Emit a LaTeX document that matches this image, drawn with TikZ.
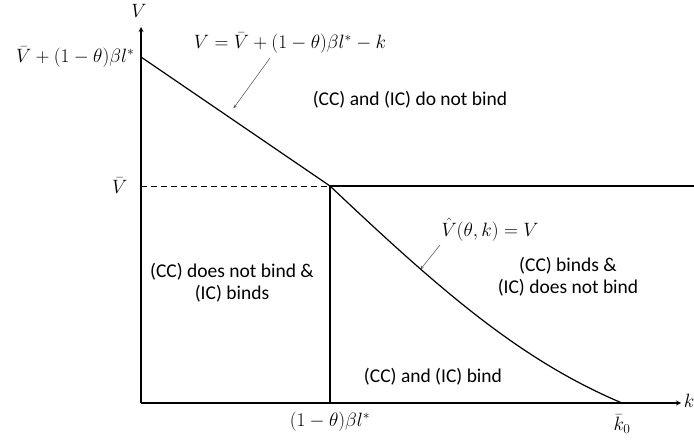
\RequirePackage{fix-cm}
\documentclass[tikz,border=0pt]{standalone}
\usepackage{fontspec}
\setmainfont{Carlito}
\begin{document}
\begin{tikzpicture}[x=1pt, y=1pt, line width=1.2pt,
  font=\fontsize{19.3}{22}\selectfont,
  pointer/.style={->, >=stealth, line width=0.5pt, draw=black!70, shorten >=1pt},
  region/.style={align=center, inner sep=1pt, font=\fontsize{19.5}{22}\selectfont}]
  \useasboundingbox (0,0) rectangle (694,440);
  % axes
  \coordinate (o) at (141,37);
  \coordinate (ytop) at (141,413);
  \coordinate (xend) at (681,37);
  \draw[->, >=stealth] (o) -- (ytop);
  \draw[->, >=stealth] (o) -- (xend);
  \node (vlab) at (139,429) {$V$};
  \node (klab) at (689,39) {$k$};
  % boundaries
  \coordinate (a) at (141,383);
  \coordinate (kink) at (330,254);
  \coordinate (vbarax) at (141,254);
  \coordinate (hend) at (694,254);
  \coordinate (kfoot) at (330,37);
  \coordinate (k0) at (622,37);
  \draw (a) -- (kink);
  \draw (kink) -- (hend);
  \draw[dashed, line width=0.8pt, dash pattern=on 6pt off 4pt] (vbarax) -- (kink);
  \draw (kink) -- (kfoot);
  \draw (kink) .. controls (440,150) and (520,80) .. (k0);
  % axis labels
  \node[anchor=east, inner sep=1pt] (toplab) at (136,383) {$\bar V+(1-\theta)\beta l^{*}$};
  \node[anchor=east, inner sep=1pt] (vbarlab) at (129,254) {$\bar V$};
  \node (kstar) at (330,18) {$(1-\theta)\beta l^{*}$};
  \node (k0lab) at (622,16) {$\bar k_0$};
  % curve labels
  \node (eqline) at (290,397) {$V=\bar V+(1-\theta)\beta l^{*}-k$};
  \node (eqcurve) at (490,210) {$\hat V(\theta,k)=V$};
  \coordinate (online) at (233,331);
  \coordinate (oncurve) at (420,170);
  \draw[pointer] (270,382) -- (online);
  \draw[pointer] (440,195) -- (oncurve);
  % regions
  \node[region] (nobind) at (410,340) {(CC) and (IC) do not bind};
  \node[region] (icbind) at (232,157) {(CC) does not bind \&\\(IC) binds};
  \node[region] (ccbind) at (568,163) {(CC) binds \&\\(IC) does not bind};
  \node[region] (bothbind) at (433,63) {(CC) and (IC) bind};
\end{tikzpicture}
\end{document}
